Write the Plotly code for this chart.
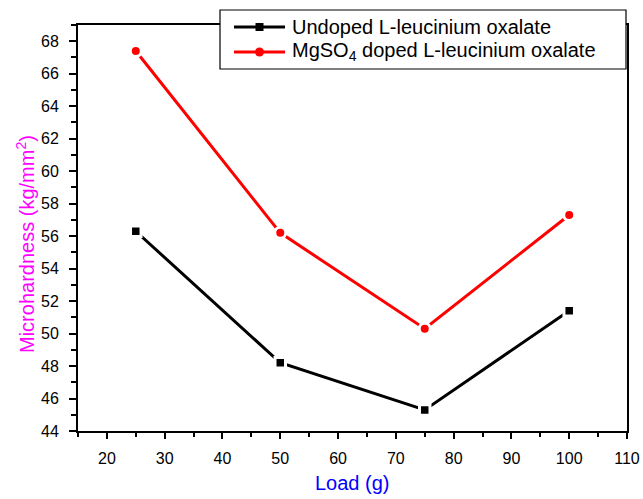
import plotly.graph_objects as go

# Indentation load (g)
load_g = [25, 50, 75, 100]
# Vickers microhardness (kg/mm^2)
undoped_hv = [56.3, 48.2, 45.3, 51.4]
doped_hv = [67.4, 56.2, 50.3, 57.3]

x_ticks = [20, 30, 40, 50, 60, 70, 80, 90, 100, 110]
y_ticks = [44, 46, 48, 50, 52, 54, 56, 58, 60, 62, 64, 66, 68]

series_names = ["Undoped L-leucinium oxalate",
                "MgSO<sub>4</sub> doped L-leucinium oxalate"]
series_colors = ["black", "#ff0000"]
series_symbols = ["square", "circle"]

FONT = "Liberation Sans, Arial, sans-serif"
W, H = 643, 499
ML, MR, MT, MB = 78, 16, 25, 68
PW, PH = W - ML - MR, H - MT - MB


def px(xpix):
    return (xpix - ML) / PW


def py(ypix):
    return (H - MB - ypix) / PH


fig = go.Figure()

# white marker outline leaves a small gap between line and marker
for yv, name, col, sym, size in [
    (undoped_hv, series_names[0], series_colors[0], series_symbols[0], 10.5),
    (doped_hv, series_names[1], series_colors[1], series_symbols[1], 11),
]:
    fig.add_trace(go.Scatter(
        x=load_g, y=yv, mode="lines+markers", name=name,
        line=dict(color=col, width=3),
        marker=dict(symbol=sym, size=size, color=col,
                    line=dict(color="white", width=3)),
    ))

axis_common = dict(
    showline=True, linecolor="black", linewidth=2, mirror=True,
    showgrid=False, zeroline=False, automargin=False,
    ticks="outside", tickcolor="black", tickwidth=1.5,
    tickfont=dict(family=FONT, size=16, color="black"),
)

fig.update_xaxes(
    range=[15, 110], tickvals=x_ticks, ticklen=6,
    minor=dict(ticks="outside", dtick=5, tick0=0, ticklen=4,
               tickcolor="black", tickwidth=1.5),
    ticklabelstandoff=6,
    **axis_common,
)
fig.update_yaxes(
    range=[44, 69], tickvals=y_ticks, ticklen=7,
    minor=dict(ticks="outside", dtick=1, tick0=0, ticklen=5,
               tickcolor="black", tickwidth=1.5),
    ticklabelstandoff=7,
    **axis_common,
)

# legend box with sample lines, markers and labels
fig.add_shape(type="rect", xref="paper", yref="paper",
              x0=px(220), x1=px(626), y0=py(69), y1=py(10),
              line=dict(color="black", width=1.2), fillcolor="white",
              layer="above")
for i, (name, col, sym) in enumerate(zip(series_names, series_colors,
                                         series_symbols)):
    yc = 27 + 25 * i
    fig.add_shape(type="line", xref="paper", yref="paper",
                  x0=px(234), x1=px(285), y0=py(yc), y1=py(yc),
                  line=dict(color=col, width=3), layer="above")
    r = 4 if sym == "square" else 4.5
    fig.add_shape(type="rect" if sym == "square" else "circle",
                  xref="paper", yref="paper",
                  x0=px(259.5 - r), x1=px(259.5 + r),
                  y0=py(yc + r), y1=py(yc - r),
                  line=dict(color=col, width=0), fillcolor=col,
                  layer="above")
    fig.add_annotation(
        text=name, xref="paper", yref="paper", x=px(290), y=py(yc),
        xanchor="left", yanchor="middle", showarrow=False,
        font=dict(family=FONT, size=20, color="black"),
    )

fig.add_annotation(
    text="Microhardness (kg/mm<sup>2</sup>)", textangle=-90,
    xref="paper", yref="paper", x=px(26), y=py(244),
    xanchor="center", yanchor="middle", showarrow=False,
    font=dict(family=FONT, size=20, color="#ff00ff"),
)
fig.add_annotation(
    text="Load (g)",
    xref="paper", yref="paper", x=px(352), y=py(483),
    xanchor="center", yanchor="middle", showarrow=False,
    font=dict(family=FONT, size=20, color="#0000ff"),
)

fig.update_layout(
    width=W, height=H,
    margin=dict(l=ML, r=MR, t=MT, b=MB, autoexpand=False),
    plot_bgcolor="white", paper_bgcolor="white",
    showlegend=False,
)

fig.write_html("out.html")
